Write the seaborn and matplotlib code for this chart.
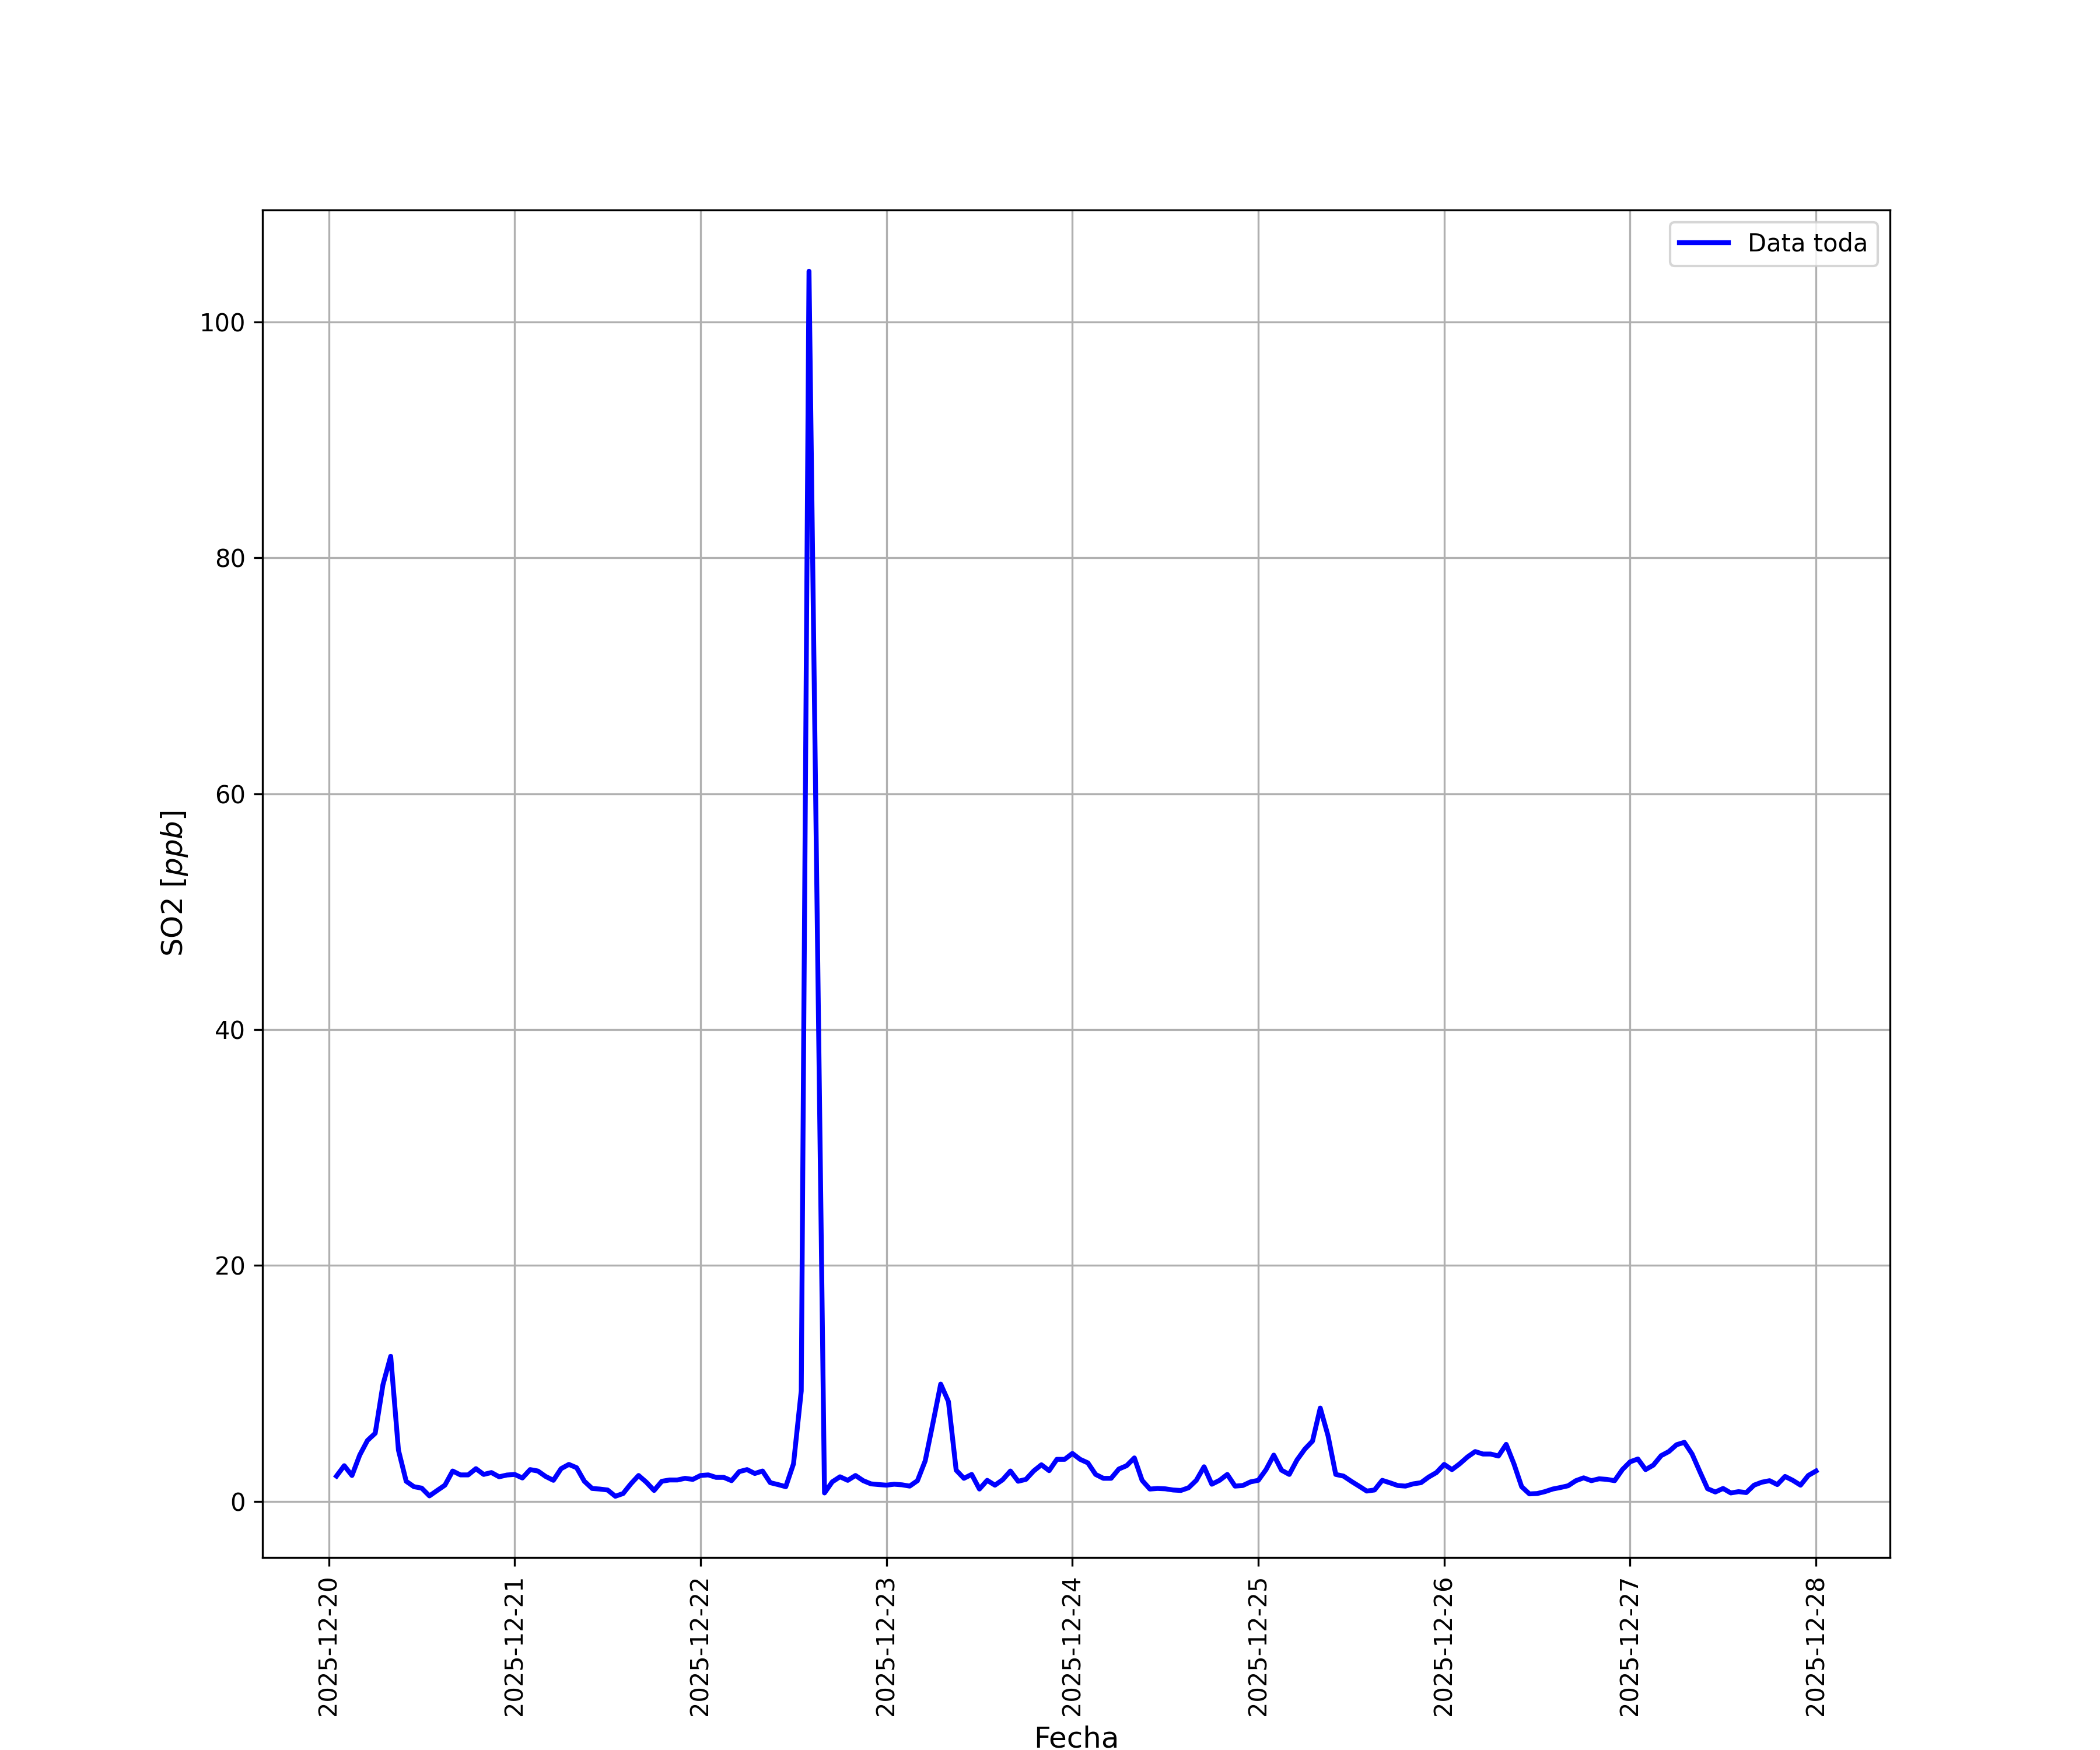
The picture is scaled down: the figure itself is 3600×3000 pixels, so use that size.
import matplotlib
matplotlib.use("Agg")
import matplotlib.pyplot as plt
import seaborn as sns
import numpy as np
import pandas as pd

# hourly SO2 readings, 01:00 of each day through 00:00 of the next
day_20 = [2.14, 3.02, 2.19, 3.92, 5.16, 5.77, 9.89, 12.3, 4.34, 1.70, 1.24, 1.12,
          0.46, 0.92, 1.37, 2.57, 2.24, 2.24, 2.77, 2.28, 2.44, 2.08, 2.23, 2.28]
day_21 = [1.98, 2.69, 2.57, 2.11, 1.78, 2.77, 3.13, 2.85, 1.70, 1.09, 1.04, 0.96,
          0.43, 0.66, 1.48, 2.19, 1.62, 0.92, 1.70, 1.81, 1.81, 1.95, 1.86, 2.19]
day_22 = [2.24, 2.03, 2.03, 1.75, 2.52, 2.69, 2.36, 2.57, 1.58, 1.42, 1.24, 3.18,
          9.36, 104.3, 52.5, 0.71, 1.65, 2.08, 1.78, 2.19, 1.75, 1.48, 1.42, 1.37]
day_23 = [1.45, 1.40, 1.29, 1.75, 3.43, 6.64, 9.94, 8.46, 2.64, 1.95, 2.28, 1.04,
          1.78, 1.37, 1.83, 2.57, 1.70, 1.86, 2.57, 3.10, 2.60, 3.56, 3.56, 4.06]
day_24 = [3.56, 3.26, 2.28, 1.95, 1.95, 2.74, 3.02, 3.68, 1.78, 1.04, 1.09, 1.06,
          0.96, 0.92, 1.15, 1.78, 2.93, 1.45, 1.78, 2.28, 1.29, 1.34, 1.65, 1.78]
day_25 = [2.69, 3.92, 2.64, 2.28, 3.51, 4.42, 5.11, 7.91, 5.57, 2.28, 2.14, 1.70,
          1.29, 0.87, 0.96, 1.78, 1.57, 1.34, 1.29, 1.48, 1.58, 2.06, 2.44, 3.13]
day_26 = [2.69, 3.18, 3.76, 4.22, 4.01, 4.01, 3.84, 4.83, 3.18, 1.24, 0.63, 0.66,
          0.82, 1.04, 1.17, 1.32, 1.75, 1.99, 1.75, 1.91, 1.86, 1.75, 2.69, 3.35]
day_27 = [3.59, 2.69, 3.07, 3.87, 4.22, 4.80, 5.00, 4.01, 2.52, 1.07, 0.79, 1.09,
          0.71, 0.82, 0.74, 1.37, 1.62, 1.75, 1.42, 2.11, 1.78, 1.37, 2.19, 2.57]

so2 = np.concatenate([day_20, day_21, day_22, day_23, day_24, day_25, day_26, day_27])
fechas = pd.date_range("2025-12-20 01:00", periods=len(so2), freq="h")
df = pd.DataFrame({"Fecha": fechas, "SO2": so2})

fig = plt.figure(figsize=(12, 10), dpi=300)
ax = sns.lineplot(data=df, x="Fecha", y="SO2", color="blue", linewidth=2,
                  label="Data toda")
ax.set_xlabel("Fecha", fontsize=12)
ax.set_ylabel("SO2 [$ppb$]", fontsize=12)
ax.grid(True)
plt.xticks(rotation=90)
ax.legend(loc="upper right")
fig.savefig("out.png", dpi=300)
